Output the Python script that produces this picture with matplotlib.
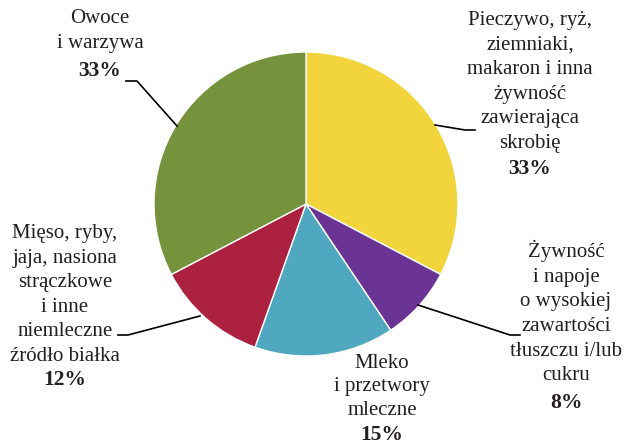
import matplotlib.pyplot as plt

plt.rcParams['font.family'] = ['Liberation Serif', 'DejaVu Serif']

# data
categories = ["Pieczywo, ryż,\nziemniaki,\nmakaron i inna\nżywność\nzawierająca\nskrobię",
              "Żywność\ni napoje\no wysokiej\nzawartości\ntłuszczu i/lub\ncukru",
              "Mleko\ni przetwory\nmleczne",
              "Mięso, ryby,\njaja, nasiona\nstrączkowe\ni inne\nniemleczne\nźródło białka",
              "Owoce\ni warzywa"]
values = [33, 8, 15, 12, 33]
colors = ["#F2D43C", "#6A3394", "#4FA8BF", "#AC2140", "#76923C"]

W, H = 626, 445

def Y(py):
    return H - py

fig = plt.figure(figsize=(W / 100, H / 100), dpi=100)
ax = fig.add_axes([0, 0, 1, 1])

cx, cy, r = 306, 204, 152
ax.pie(values, colors=colors, startangle=90, counterclock=False,
       center=(cx, Y(cy)), radius=r, frame=True,
       wedgeprops=dict(edgecolor='white', linewidth=1))
ax.set_xlim(0, W)
ax.set_ylim(0, H)
ax.set_aspect('equal')
ax.axis('off')

# label layout: center x, top of first line, center of percent line (pixels)
label_x = [530, 566, 382, 65, 100]
label_top = [11, 240, 354, 224, 9]
label_pct = [169, 403, 435, 380, 71]
label_ls = [1.4, 1.4, 1.32, 1.4, 1.4]

for cat, v, x, t, p, ls in zip(categories, values, label_x, label_top, label_pct, label_ls):
    ax.text(x, Y(t), cat, ha='center', va='top', fontsize=15,
            linespacing=ls, color='#231F20')
    ax.text(x, Y(p), f"{v}%", ha='center', va='center', fontsize=15.5,
            fontweight='bold', color='#231F20')

# leader lines
leaders = [
    [(435, 125), (465, 130), (475, 130)],
    [(418, 305), (510, 335), (520, 335)],
    [(200, 316), (128, 335), (118, 335)],
    [(177, 126), (137, 81), (126, 81)],
]
for pts in leaders:
    ax.plot([p[0] for p in pts], [Y(p[1]) for p in pts], color='black', lw=1.2)

fig.savefig("out.png", dpi=100)
